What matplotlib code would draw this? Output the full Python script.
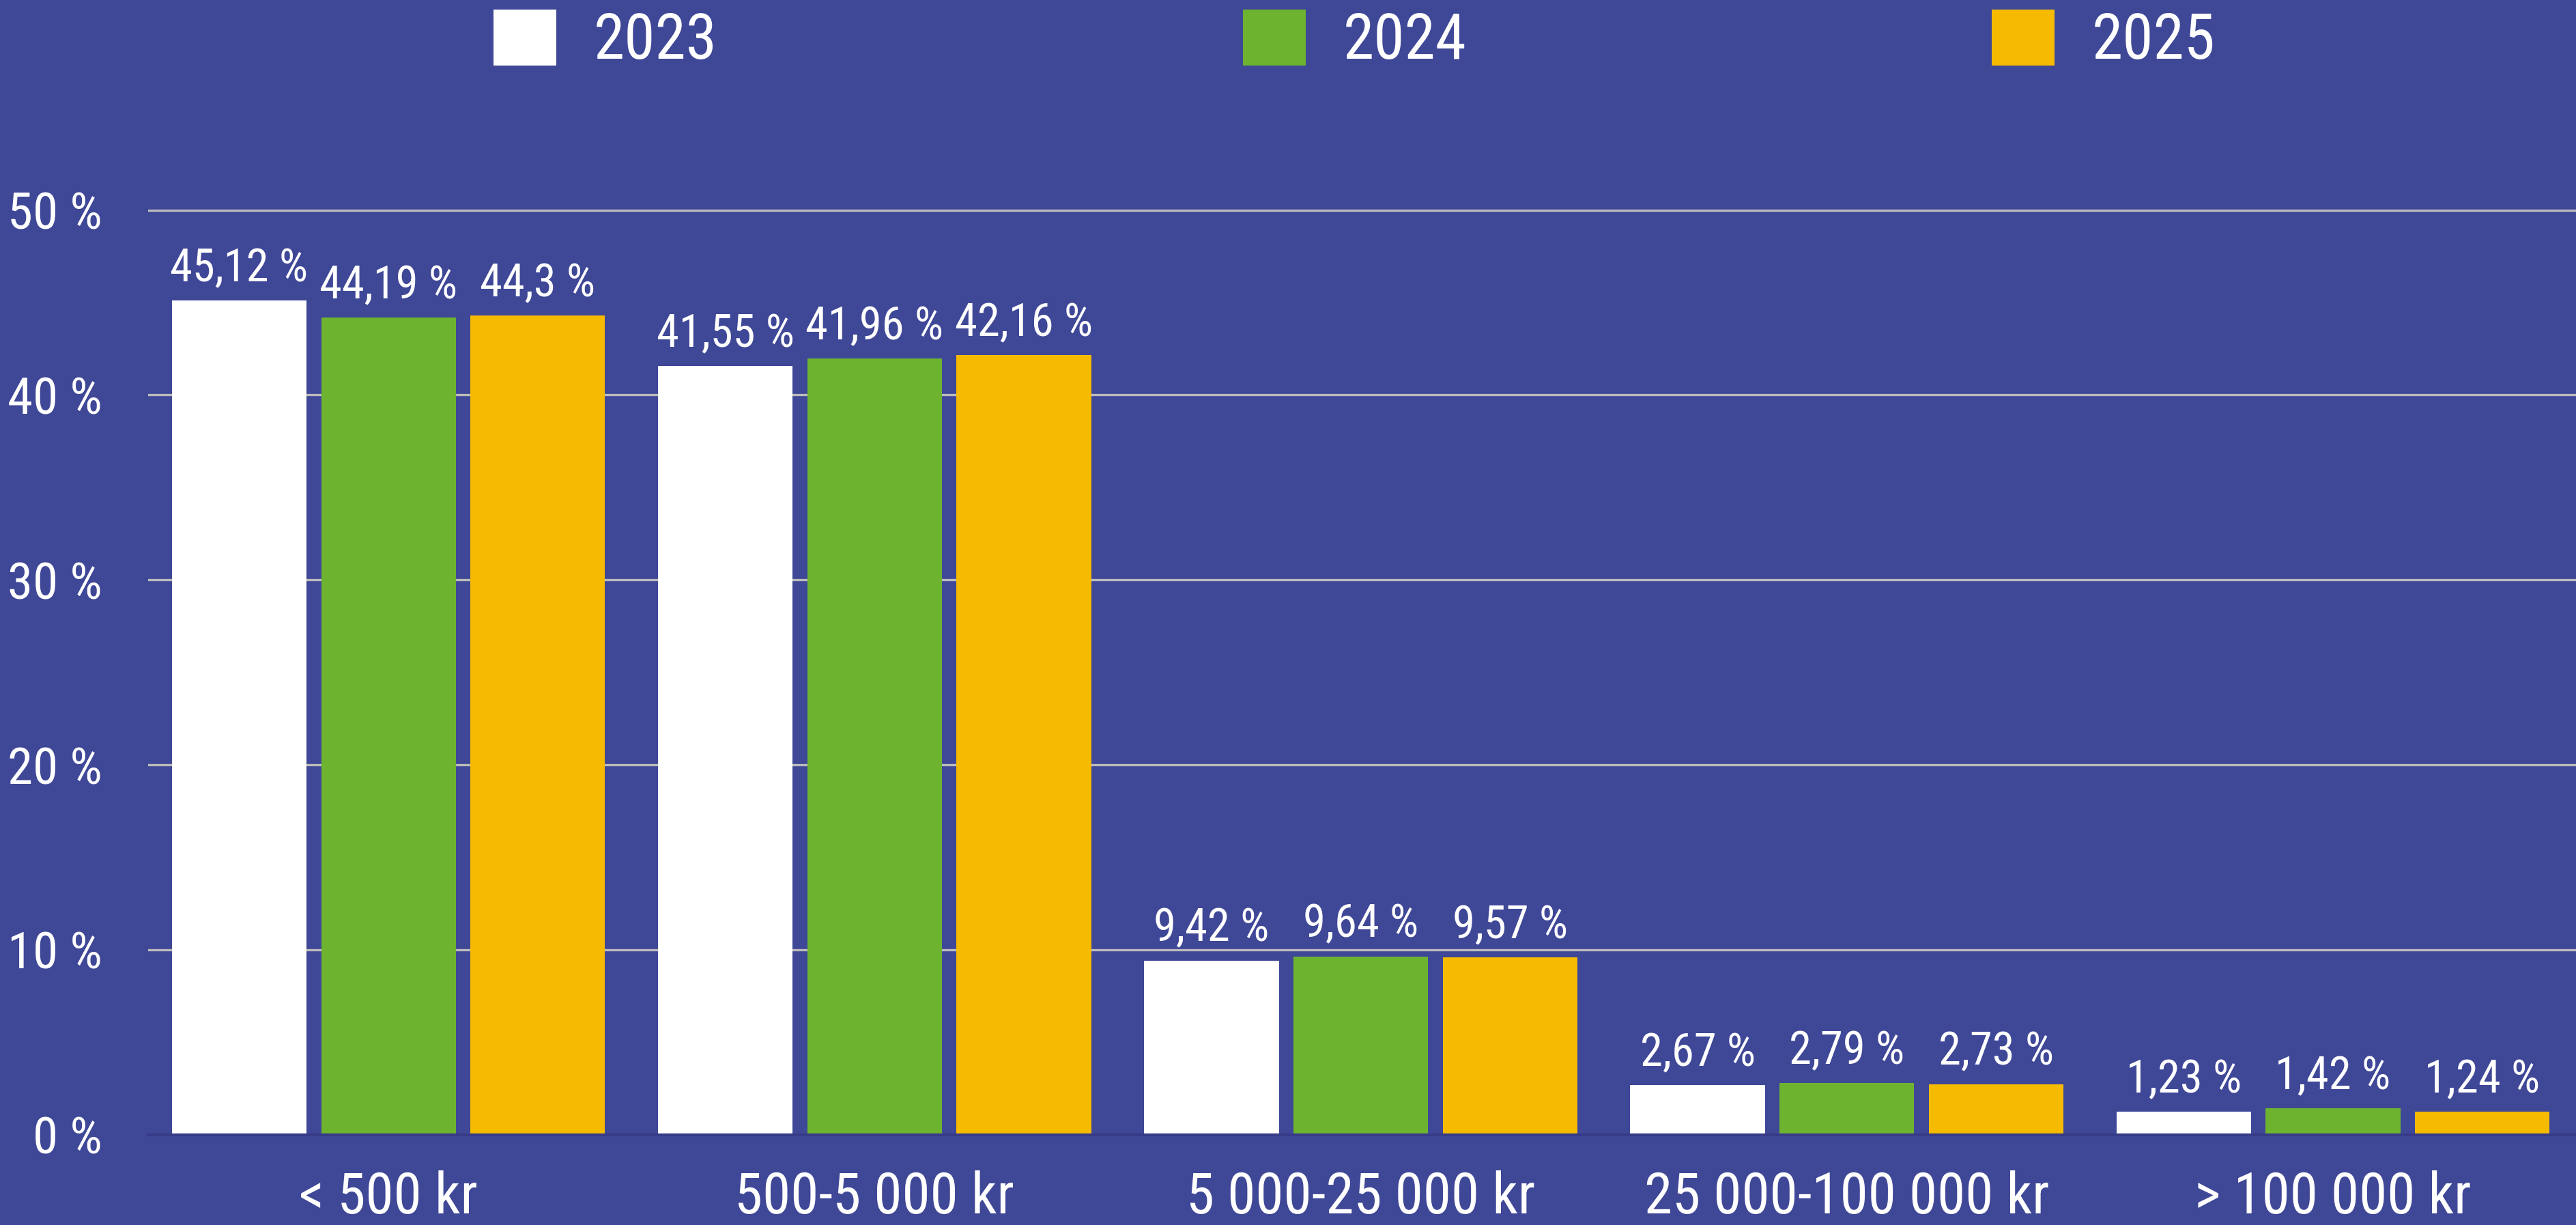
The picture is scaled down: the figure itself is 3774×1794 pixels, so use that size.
import os
import numpy as np
import matplotlib
matplotlib.use("Agg")
import matplotlib.pyplot as plt
from matplotlib import font_manager
from matplotlib.patches import Patch

# Pick a condensed font, the reference uses a narrow DIN-like face
def pick_condensed():
    prefs = ['robotocondensed-regular', 'robotocondensed-medium', 'liberationsansnarrow-regular',
             'dejavusanscondensed.ttf', 'opensans_condensed-regular', 'opensanscondensed']
    files = {os.path.basename(f.fname).lower(): f for f in font_manager.fontManager.ttflist}
    for p in prefs:
        for base, entry in files.items():
            if base.startswith(p):
                return entry
    return None

entry = pick_condensed()
if entry is not None:
    plt.rcParams['font.family'] = [entry.name, 'DejaVu Sans']
    plt.rcParams['font.stretch'] = entry.stretch
else:
    plt.rcParams['font.family'] = ['DejaVu Sans']

# Data
categories = ["< 500 kr", "500-5 000 kr", "5 000-25 000 kr", "25 000-100 000 kr", "> 100 000 kr"]
years = ["2023", "2024", "2025"]
values_2023 = [45.12, 41.55, 9.42, 2.67, 1.23]
values_2024 = [44.19, 41.96, 9.64, 2.79, 1.42]
values_2025 = [44.3, 42.16, 9.57, 2.73, 1.24]
yticks = [0, 10, 20, 30, 40, 50]

BG = '#3F4797'
colors = ['#FFFFFF', '#6DB32F', '#F6BA00']

fig = plt.figure(figsize=(18.87, 8.97), dpi=200, facecolor=BG)
ax = fig.add_axes([0.0574, 0.0738, 0.9426, 0.80])
ax.set_facecolor(BG)

x = np.arange(len(categories))
pitch = 0.307
width = 0.277
series = [values_2023, values_2024, values_2025]

for i, (vals, col) in enumerate(zip(series, colors)):
    bars = ax.bar(x + (i - 1) * pitch, vals, width, color=col, zorder=3)
    for bar, v in zip(bars, vals):
        label = f"{v:g}".replace('.', ',') + " %"
        ax.annotate(label, xy=(bar.get_x() + bar.get_width() / 2, bar.get_height()),
                    xytext=(0, 5), textcoords="offset points",
                    ha='center', va='bottom', fontsize=24, color='white', zorder=4)

ax.set_xlim(-0.495, 4.5)
ax.set_ylim(0, 53)
ax.set_yticks(yticks)
ax.set_yticklabels([f"{t} %" for t in yticks])
ax.set_xticks(x)
ax.set_xticklabels(categories)
ax.tick_params(axis='y', length=0, pad=24, labelsize=27, labelcolor='white')
ax.tick_params(axis='x', length=0, pad=19, labelsize=30, labelcolor='white')

ax.grid(axis='y', color='#BBBBBB', linewidth=1.2, zorder=1)
ax.grid(axis='x', visible=False)
for side in ['top', 'right', 'left']:
    ax.spines[side].set_visible(False)
ax.spines['bottom'].set_color('#363B88')
ax.spines['bottom'].set_linewidth(1.5)
ax.spines['bottom'].set_zorder(5)

handles = [Patch(facecolor=c, edgecolor='none') for c in colors]
fig.legend(handles, years, loc='upper left', bbox_to_anchor=(0.188, 1.0), ncol=3,
           frameon=False, fontsize=33, labelcolor='white',
           handlelength=1.0, handleheight=1.0, handletextpad=0.6,
           columnspacing=8.4, borderaxespad=0.0, borderpad=0.15)

plt.savefig("out.png", dpi=200, facecolor=BG)
